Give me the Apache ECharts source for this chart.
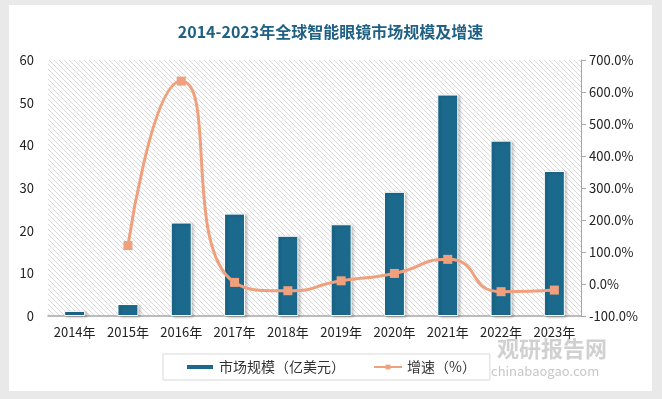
<!DOCTYPE html>
<html>
<head>
<meta charset="utf-8">
<script src="https://cdn.jsdelivr.net/npm/echarts@6/dist/echarts.min.js"></script>
<style>
  html, body { margin: 0; padding: 0; background: #e9e9e9; width: 662px; height: 399px; overflow: hidden; }
  #chart { position: absolute; left: 9px; top: 5px; width: 643px; height: 386px; background: #fff; }
</style>
</head>
<body>
<div id="chart"></div>
<script>
  // 数据
  var years = ['2014年', '2015年', '2016年', '2017年', '2018年', '2019年', '2020年', '2021年', '2022年', '2023年'];
  var marketSize = [1.2, 2.8, 21.9, 24.0, 18.8, 21.5, 29.1, 51.9, 41.1, 34.0];
  var growth = [null, 120, 634, 5, -21, 10, 33, 77, -24, -19];

  // 斜线底纹
  var hatch = document.createElement('canvas');
  hatch.width = 5; hatch.height = 5;
  var hc = hatch.getContext('2d');
  hc.fillStyle = '#ffffff';
  hc.fillRect(0, 0, 5, 5);
  hc.strokeStyle = '#d9d9d9';
  hc.lineWidth = 1;
  hc.beginPath();
  hc.moveTo(-1, -1); hc.lineTo(6, 6);
  hc.moveTo(-1, 4); hc.lineTo(1, 6);
  hc.moveTo(4, -1); hc.lineTo(6, 1);
  hc.stroke();

  var font = '"Noto Sans CJK SC", "Noto Sans", sans-serif';
  var myChart = echarts.init(document.getElementById('chart'));
  var option = {
    animation: false,
    title: {
      text: '2014-2023年全球智能眼镜市场规模及增速',
      left: 'center',
      top: 14,
      textStyle: { fontSize: 16, fontWeight: 'bold', color: '#1f6185', fontFamily: font }
    },
    grid: {
      left: 39, top: 55, width: 533, height: 256,
      show: true,
      borderWidth: 0,
      backgroundColor: { image: hatch, repeat: 'repeat' }
    },
    legend: {
      left: 154, top: 349,
      width: 336, height: 28,
      padding: [6, 14, 6, 22],
      borderColor: '#d9d9d9', borderWidth: 1,
      itemGap: 28,
      textStyle: { fontSize: 14, color: '#333', fontFamily: font },
      data: [
        { name: '市场规模（亿美元）', icon: 'rect', itemStyle: { color: '#1b6a8e' } },
        { name: '增速（%）' }
      ],
      itemWidth: 28, itemHeight: 6
    },
    graphic: [
      {
        type: 'text', left: 488, top: 333,
        style: { text: '观研报告网', fontSize: 22, fontWeight: 'bold', fill: 'rgba(170,170,170,0.55)', fontFamily: font }
      },
      {
        type: 'text', left: 482, top: 360,
        style: { text: 'chinabaogao.com', fontSize: 13, fill: 'rgba(160,160,160,0.6)', fontFamily: font }
      }
    ],
    xAxis: {
      type: 'category',
      data: years,
      axisTick: { show: false },
      axisLine: { lineStyle: { color: '#a6a6a6', width: 1.5 } },
      axisLabel: { fontSize: 13, color: '#222', fontFamily: font, margin: 10, interval: 0 }
    },
    yAxis: [
      {
        type: 'value', min: 0, max: 60, interval: 10,
        axisLine: { show: false }, axisTick: { show: false },
        splitLine: { show: false },
        axisLabel: { fontSize: 13, color: '#222', fontFamily: font, margin: 14 }
      },
      {
        type: 'value', min: -100, max: 700, interval: 100,
        position: 'right',
        axisLine: { show: true, lineStyle: { color: '#a6a6a6' } },
        axisTick: { show: true, length: 5, lineStyle: { color: '#a6a6a6' } },
        splitLine: { show: false },
        axisLabel: { fontSize: 13, color: '#222', fontFamily: font, margin: 8,
          formatter: function (v) { return v.toFixed(1) + '%'; } }
      }
    ],
    series: [
      {
        name: '市场规模（亿美元）',
        type: 'bar',
        data: marketSize,
        barWidth: 21,
        itemStyle: {
          color: '#1b6a8e',
          borderColor: '#ffffff', borderWidth: 1,
          shadowColor: 'rgba(0,0,0,0.25)', shadowBlur: 3, shadowOffsetX: 2, shadowOffsetY: 1
        }
      },
      {
        name: '增速（%）',
        type: 'line',
        yAxisIndex: 1,
        data: growth,
        smooth: 0.6,
        symbol: 'rect',
        symbolSize: 9,
        lineStyle: { color: '#f0a07c', width: 3 },
        itemStyle: { color: '#f0a07c' }
      }
    ]
  };
  myChart.setOption(option);
</script>
</body>
</html>
